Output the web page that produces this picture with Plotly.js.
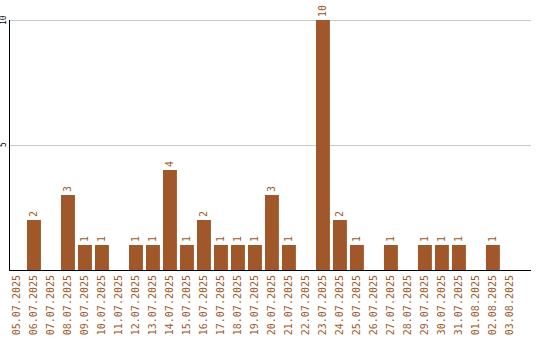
<!DOCTYPE html>
<html><head><meta charset="utf-8">
<script src="https://cdn.plot.ly/plotly-3.0.1.min.js"></script>
<style>html,body{margin:0;padding:0;background:#fff}#c{width:540px;height:340px}</style>
</head><body><div id="c"></div>
<script>
const dates = ["05.07.2025","06.07.2025","07.07.2025","08.07.2025","09.07.2025","10.07.2025","11.07.2025","12.07.2025","13.07.2025","14.07.2025","15.07.2025","16.07.2025","17.07.2025","18.07.2025","19.07.2025","20.07.2025","21.07.2025","22.07.2025","23.07.2025","24.07.2025","25.07.2025","26.07.2025","27.07.2025","28.07.2025","29.07.2025","30.07.2025","31.07.2025","01.08.2025","02.08.2025","03.08.2025"];
const counts = [0,2,0,3,1,1,0,1,1,4,1,2,1,1,1,3,1,0,10,2,1,0,1,0,1,1,1,0,1,0];
const yTicks = [5,10];

const color = '#a0582a';
const mono = '"DejaVu Sans Mono", monospace';
Plotly.newPlot('c', [{
  type: 'bar',
  x: dates.map((d,i)=>i),
  y: counts,
  text: counts.map(v => v ? String(v) : ''),
  textposition: 'outside',
  textangle: -90,
  textfont: {family: mono, size: 10, color: color},
  cliponaxis: false,
  marker: {color: color, line: {width: 0}},
  hoverinfo: 'none'
}], {
  width: 540, height: 340,
  margin: {l: 10, r: 9, t: 20, b: 70, pad: 0},
  paper_bgcolor: '#fff', plot_bgcolor: '#fff',
  bargap: 0.18,
  showlegend: false,
  xaxis: {
    range: [-0.41, 30.24],
    tickmode: 'array', tickvals: dates.map((d,i)=>i), ticktext: dates,
    tickangle: -90,
    tickfont: {family: mono, size: 10, color: color},
    showgrid: false, zeroline: false,
    showline: true, linecolor: '#000', linewidth: 1,
    ticks: '', ticklen: 0
  },
  yaxis: {
    range: [0, 10],
    tickmode: 'array', tickvals: yTicks,
    showticklabels: false,
    showgrid: false,
    zeroline: false,
    showline: true, linecolor: '#000', linewidth: 1,
    ticks: '', ticklen: 0
  },
  shapes: yTicks.map(v => ({
    type: 'line', layer: 'below', xref: 'paper', yref: 'y',
    ysizemode: 'pixel', yanchor: v,
    x0: 0, x1: 1, y0: -0.5, y1: -0.5,
    line: {color: '#c8c8c8', width: 1}
  })),
  annotations: yTicks.map(v => ({
    xref: 'paper', yref: 'y', x: 0, y: v,
    xanchor: 'center', yanchor: 'middle', xshift: -7,
    text: String(v), showarrow: false, textangle: -90,
    font: {family: mono, size: 8, color: '#000'}
  }))
}, {staticPlot: true, displayModeBar: false});
</script></body></html>
